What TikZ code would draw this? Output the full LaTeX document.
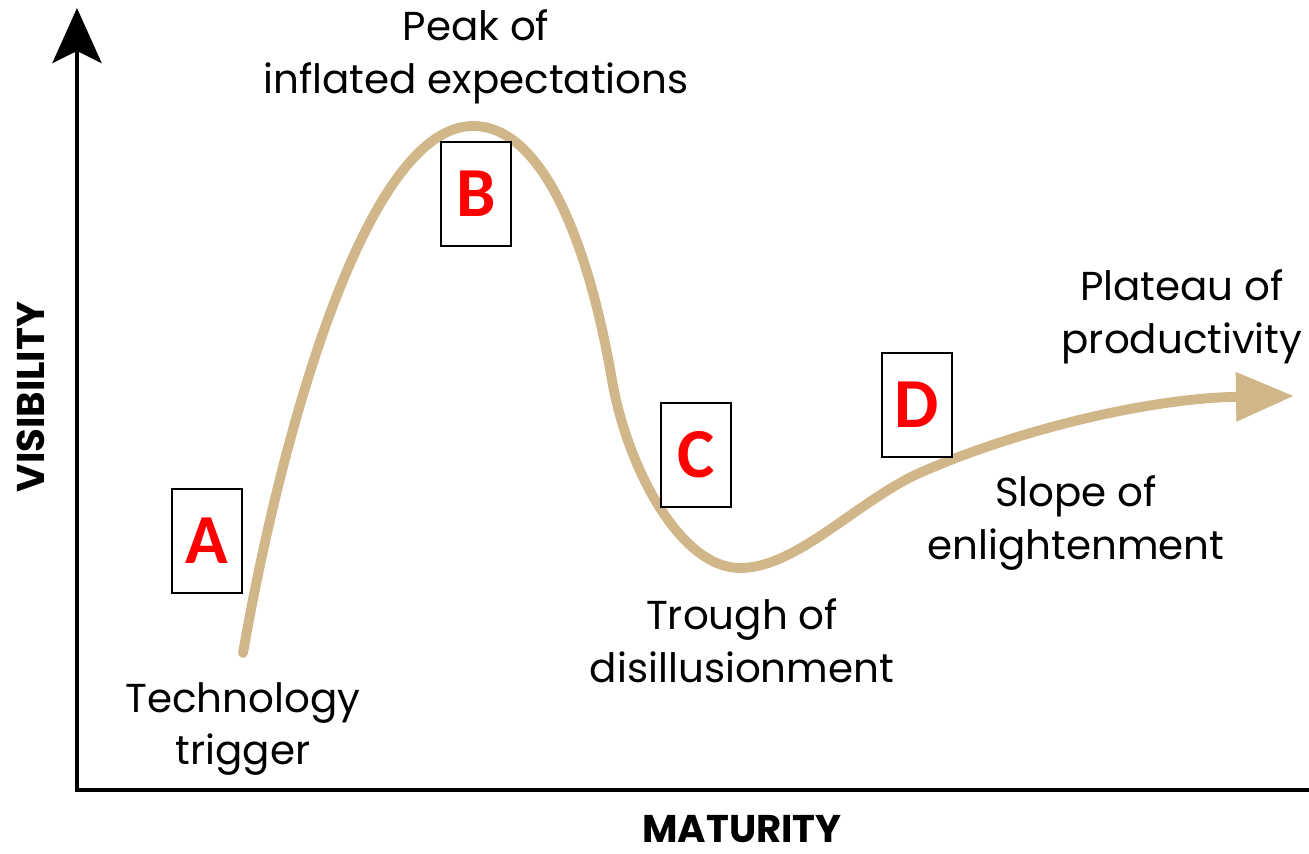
\documentclass[tikz,border=0pt]{standalone}
\usepackage{fontspec}
\setmainfont{Poppins}
\newfontfamily\lettfont{Carlito}
\usepackage{tikz}
\usetikzlibrary{arrows.meta, positioning}
\definecolor{hypetan}{RGB}{208, 182, 136}
\definecolor{lettred}{RGB}{255, 0, 0}

\begin{document}
\begin{tikzpicture}[x=0.02cm, y=-0.02cm,
    axis/.style={line width=2.8pt, black},
    hype/.style={line width=5.6pt, hypetan, line cap=round},
    lettbox/.style={draw=black, line width=1.1pt, fill=white, minimum width=1.4cm,
      minimum height=2.08cm, inner sep=0pt, text=lettred, font=\lettfont\bfseries\fontsize{40}{40}\selectfont},
    lbl/.style={align=center, font=\fontsize{23}{30}\selectfont},
    axlbl/.style={inner sep=0pt, font=\bfseries\fontsize{22}{24}\selectfont}]
		\useasboundingbox (0,0) rectangle (1309,853);
		% axes
		\coordinate (origin) at (77,790);
		\coordinate (xend) at (1309,790);
		\coordinate (ytop) at (77,8);
		\draw[axis, -{Stealth[length=1.1cm, width=0.98cm, inset=0.24cm]}] (xend) -- (origin) -- (ytop);
		\node[axlbl, anchor=base] (maturity) at (742,842) {MATURITY};
		\node[axlbl, rotate=90, anchor=base] (visibility) at (44,397) {VISIBILITY};
		
		% hype curve
		\coordinate (start) at (243,653);
		\coordinate (top) at (473,126);
		\coordinate (fall) at (612,380);
		\coordinate (bottom) at (740,568);
		\coordinate (climb) at (915,475);
		\coordinate (tip) at (1294,396);
		\draw[hype, -{Triangle[length=1.16cm, width=0.94cm]}] (start)
		  .. controls (283,425) and (368,126) .. (top)
		  .. controls (540,126) and (587,235) .. (fall)
		  .. controls (627,467) and (680,568) .. (bottom)
		  .. controls (795,568) and (852,506) .. (climb)
		  .. controls (1015,430) and (1150,398) .. (tip);
		
		% phase labels
		\node[lbl] (trigger) at (243,729) {Technology\\trigger};
		\node[lbl] (peak) at (476,57) {Peak of\\inflated expectations};
		\node[lbl] (trough) at (742,641) {Trough of\\disillusionment};
		\node[lbl] (slope) at (1076,523) {Slope of\\enlightenment};
		\node[lbl] (plateau) at (1182,317) {Plateau of\\productivity};
		
		% letter boxes
		\node[lettbox] (boxA) at (207,541) {A};
		\node[lettbox] (boxB) at (476,194) {B};
		\node[lettbox] (boxC) at (696,455) {C};
		\node[lettbox] (boxD) at (917,405) {D};
\end{tikzpicture}
\end{document}
